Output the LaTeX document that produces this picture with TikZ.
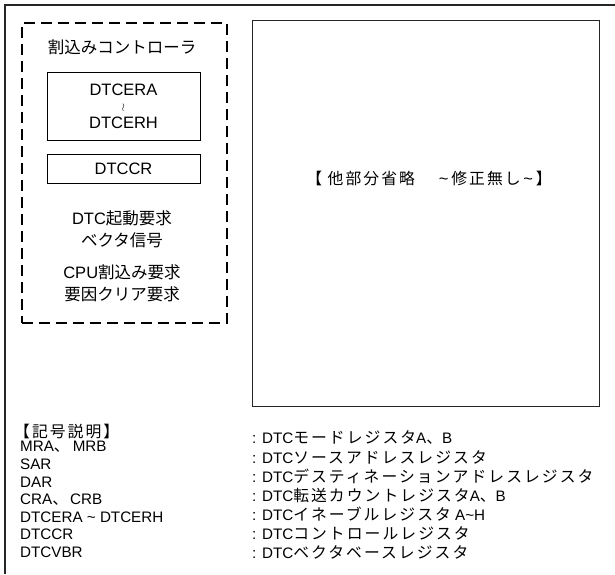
\documentclass[tikz,border=0pt]{standalone}
\usepackage{fontspec}
\setmainfont{Liberation Sans}
\newfontfamily\jp{Noto Sans CJK JP}
\newfontfamily\jpw[LetterSpace=13]{Noto Sans CJK JP}
\newcommand\J[1]{{\jp #1}}
\newcommand\JL[1]{{\fontsize{15.8}{18}\jpw #1}}
\newcommand\tl{\textasciitilde}
\begin{document}
\begin{tikzpicture}[x=1pt,y=-1pt,
  frame/.style={line width=1.3pt, draw=black!85},
  dashbox/.style={draw, line width=2pt, dash pattern=on 11pt off 6pt},
  regbox/.style={draw, line width=1pt, minimum width=153pt, inner sep=0},
  bigbox/.style={draw=black!85, line width=1.3pt, inner sep=0},
  lbl/.style={font=\fontsize{16.5}{20}\selectfont, align=center, inner sep=0},
  leg/.style={font=\fontsize{15.2}{16}\selectfont, anchor=west, inner sep=0},
]
\useasboundingbox (0,0) rectangle (615,574);
\coordinate (fa) at (5,574);
\coordinate (fb) at (5,5);
\coordinate (fc) at (615,5);
\draw[frame] (fa) -- (fb) -- (fc);

% interrupt controller (dashed)
\node[dashbox, minimum width=205pt, minimum height=300pt, anchor=north west] (ctrl) at (20.5,22) {};
\node[lbl] (ttl) at (122,47) {\J{割込みコントローラ}};
\node[regbox, minimum height=68pt] (dtcer) at (123.5,106) {};
\node[lbl] (era) at (123.5,90) {DTCERA};
\node[inner sep=0, font=\fontsize{11}{11}\selectfont] (wav) at (123.5,107.5) {$\wr$};
\node[lbl] (erh) at (123.5,123) {DTCERH};
\node[regbox, minimum height=29pt] (dtccr) at (123.5,168.5) {};
\node[lbl] (ccr) at (123.5,169) {DTCCR};
\node[lbl] (s1) at (122,218) {DTC\J{起動要求}};
\node[lbl] (s2) at (122,240) {\J{ベクタ信号}};
\node[lbl] (s3) at (122,272) {CPU\J{割込み要求}};
\node[lbl] (s4) at (122,294) {\J{要因クリア要求}};

% other part
\node[bigbox, minimum width=347pt, minimum height=386pt, anchor=north west] (other) at (252,20) {};
\node[lbl] (omit) at (429,178) {\JL{【 他部分省略}\hspace{24pt}\tl\,\JL{修正無し}\,\tl\,\JL{】}};

% legend
\node[leg] (lg0) at (14,431) {\JL{【記号説明】}};
\node[leg] (lg1) at (20,447) {MRA\JL{、}\hspace{3pt}MRB};
\node[leg] (lg2) at (20,464.5) {SAR};
\node[leg] (lg3) at (20,482) {DAR};
\node[leg] (lg4) at (20,499.5) {CRA\JL{、}\hspace{2pt}CRB};
\node[leg] (lg5) at (20,517) {DTCERA \tl\ DTCERH};
\node[leg] (lg6) at (20,534.5) {DTCCR};
\node[leg] (lg7) at (20,552) {DTCVBR};

\node[leg] (rg1) at (252,438) {: DTC\JL{モードレジスタ}A\JL{、}B};
\node[leg] (rg2) at (252,457) {: DTC\JL{ソースアドレスレジスタ}};
\node[leg] (rg3) at (252,476) {: DTC\JL{デスティネーションアドレスレジスタ}};
\node[leg] (rg4) at (252,495) {: DTC\JL{転送カウントレジスタ}A\JL{、}B};
\node[leg] (rg5) at (252,514) {: DTC\JL{イネーブルレジスタ} A\tl H};
\node[leg] (rg6) at (252,533) {: DTC\JL{コントロールレジスタ}};
\node[leg] (rg7) at (252,552) {: DTC\JL{ベクタベースレジスタ}};
\end{tikzpicture}
\end{document}
